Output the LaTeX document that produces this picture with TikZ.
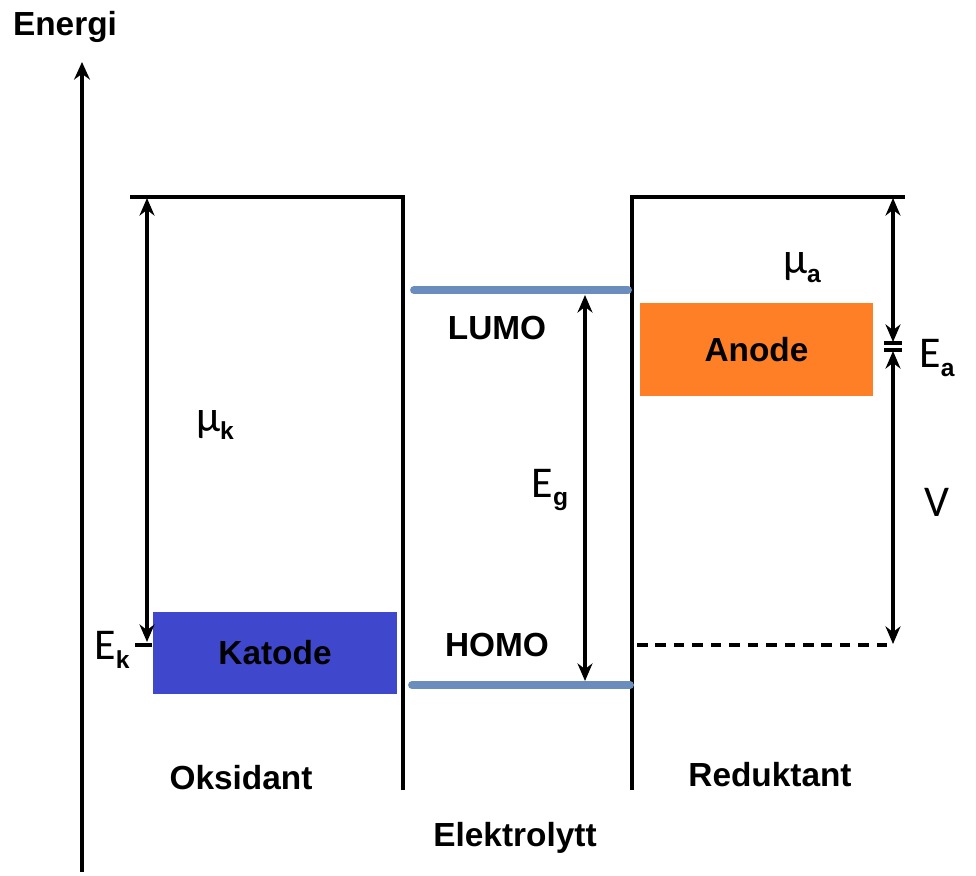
\documentclass[tikz,border=0pt]{standalone}
\usepackage{fontspec}
\setmainfont{Liberation Sans}
\newfontfamily\symfont{Carlito}
\usetikzlibrary{arrows.meta}

\definecolor{orbital}{RGB}{106,141,190}
\definecolor{katodeblue}{RGB}{63,72,204}
\definecolor{anodeorange}{RGB}{255,127,39}

\newcommand{\lvl}[2]{{\mdseries\symfont\fontsize{25}{27}\selectfont #1}\raisebox{-0.5ex}{\fontsize{14}{15}\selectfont #2}}

\begin{document}
\begin{tikzpicture}[x=0.02cm, y=-0.02cm,
  every node/.style={font=\bfseries\fontsize{19}{22}\selectfont},
  wall/.style={line width=2pt},
  gap/.style={line width=1.8pt, {Stealth[length=10pt,width=8.5pt]}-{Stealth[length=10pt,width=8.5pt]}},
  level/.style={line width=4.5pt, orbital, line cap=round},
  electrode/.style={draw=none, inner sep=0pt}]
  \useasboundingbox (0,0) rectangle (976,875);

  % energy axis
  \coordinate (axbot) at (82,872);
  \coordinate (axtop) at (82,62);
  \draw[line width=2pt, -{Stealth[length=10pt,width=9pt]}] (axbot) -- (axtop);
  \node (energi) at (65,27) {Energi};

  % oxidant and reductant walls
  \coordinate (oxtl) at (130,197);
  \coordinate (oxtr) at (403,197);
  \coordinate (oxbr) at (403,790);
  \draw[wall] (oxtl) -- (oxtr) -- (oxbr);
  \coordinate (rdbl) at (632,790);
  \coordinate (rdtl) at (632,197);
  \coordinate (rdtr) at (905,197);
  \draw[wall] (rdbl) -- (rdtl) -- (rdtr);

  % electrolyte levels
  \coordinate (lumol) at (414,290);
  \coordinate (lumor) at (628,290);
  \coordinate (homol) at (412,685);
  \coordinate (homor) at (630,685);
  \draw[level] (lumol) -- (lumor);
  \draw[level] (homol) -- (homor);
  \node (lumo) at (497,328) {LUMO};
  \node (homo) at (497,645) {HOMO};
  \coordinate (egtop) at (585,295);
  \coordinate (egbot) at (585,681);
  \draw[gap] (egtop) -- (egbot);
  \node (eg) at (550,490) {\lvl{E}{g}};

  % electrodes
  \node[electrode, fill=katodeblue, minimum width=4.88cm, minimum height=1.64cm] (katode) at (275,653) {Katode};
  \node[electrode, fill=anodeorange, minimum width=4.66cm, minimum height=1.86cm] (anode) at (756.5,349.5) {Anode};

  % cathode potential
  \coordinate (muktop) at (147,198);
  \coordinate (mukbot) at (147,642);
  \draw[gap] (muktop) -- (mukbot);
  \coordinate (ektl) at (135,645);
  \coordinate (ektr) at (152,645);
  \draw[wall] (ektl) -- (ektr);
  \node (muk) at (215,425) {\lvl{μ}{k}};
  \node (ek) at (112,650) {\lvl{E}{k}};

  % anode potential and cell voltage
  \coordinate (matop) at (893,198);
  \coordinate (mabot) at (893,342);
  \coordinate (vtop) at (893,351);
  \coordinate (vbot) at (893,644);
  \draw[gap] (matop) -- (mabot);
  \draw[gap] (vtop) -- (vbot);
  \draw[wall] (884,343) -- (902,343);
  \draw[wall] (884,350) -- (902,350);
  \coordinate (dashl) at (637,645);
  \coordinate (dashr) at (893,645);
  \draw[wall, dash pattern=on 6pt off 4.5pt] (dashl) -- (dashr);
  \node (mua) at (802,268) {\lvl{μ}{a}};
  \node (ea) at (937,358) {\lvl{E}{a}};
  \node (v) at (937,507) {\lvl{V}{}};

  % region names
  \node (oks) at (241,778) {Oksidant};
  \node (red) at (770,775) {Reduktant};
  \node (elyt) at (515,838) {Elektrolytt};
\end{tikzpicture}
\end{document}
